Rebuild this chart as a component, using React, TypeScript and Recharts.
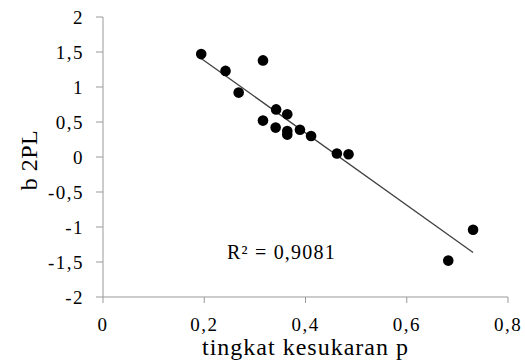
import React from "react"
import { ScatterChart, Scatter, XAxis, YAxis, ReferenceDot, Label } from "recharts"

// tingkat kesukaran p (x) vs b 2PL (y)
const pValues = [0.194, 0.242, 0.268, 0.316, 0.316, 0.341, 0.342, 0.364, 0.364, 0.364, 0.389, 0.411, 0.462, 0.485, 0.682, 0.731]
const bValues = [1.47, 1.23, 0.92, 1.38, 0.52, 0.42, 0.68, 0.61, 0.37, 0.32, 0.39, 0.30, 0.05, 0.04, -1.48, -1.04]

const xTicks = [0, 0.2, 0.4, 0.6, 0.8]
const yTicks = [-2, -1.5, -1, -0.5, 0, 0.5, 1, 1.5, 2]

const rSquaredText = "R² = 0,9081"

const points = pValues.map((p, i) => ({ x: p, y: bValues[i] }))

// linear trendline (least squares), drawn across the data range
const n = points.length
const meanX = pValues.reduce((a, b) => a + b, 0) / n
const meanY = bValues.reduce((a, b) => a + b, 0) / n
const sxy = points.reduce((s, d) => s + (d.x - meanX) * (d.y - meanY), 0)
const sxx = points.reduce((s, d) => s + (d.x - meanX) ** 2, 0)
const slope = sxy / sxx
const intercept = meanY - slope * meanX
const xMin = Math.min(...pValues)
const xMax = Math.max(...pValues)
const trend = [
    { x: xMin, y: intercept + slope * xMin },
    { x: xMax, y: intercept + slope * xMax },
]

const font = "Liberation Serif"
const fmt = (v: number) => String(v).replace(".", ",")

const tickStyle = { fontFamily: font, fontSize: 19, fill: "#000", letterSpacing: 1.5, style: { fontFamily: font } }

export default function App() {
    return (
        <div style={{ position: "absolute", left: 0, top: 0, background: "#fff", fontFamily: font }}>
            <ScatterChart width={525} height={361} margin={{ top: 17, right: 17, bottom: 0, left: 0 }} style={{ fontFamily: font }}>
                <XAxis
                    type="number"
                    dataKey="x"
                    domain={[0, 0.8]}
                    ticks={xTicks}
                    tickFormatter={fmt}
                    height={64}
                    tickSize={6}
                    tickMargin={15}
                    stroke="#999"
                    tick={tickStyle}
                    label={
                        <Label
                            content={({ viewBox }: any) => (
                                <text
                                    x={viewBox.x + viewBox.width / 2}
                                    y={355}
                                    textAnchor="middle"
                                    style={{ fontFamily: font }}
                                    fontSize={24}
                                    letterSpacing={1}
                                    fill="#000"
                                >
                                    tingkat kesukaran p
                                </text>
                            )}
                        />
                    }
                />
                <YAxis
                    type="number"
                    dataKey="y"
                    domain={[-2, 2]}
                    ticks={yTicks}
                    tickFormatter={fmt}
                    width={103}
                    tickSize={7}
                    tickMargin={12}
                    stroke="#999"
                    tick={tickStyle}
                    label={
                        <Label
                            content={({ viewBox }: any) => {
                                const cy = viewBox.y + viewBox.height / 2 + 3
                                return (
                                    <text
                                        x={37}
                                        y={cy}
                                        transform={`rotate(-90, 37, ${cy})`}
                                        textAnchor="middle"
                                        style={{ fontFamily: font }}
                                        fontSize={24}
                                        letterSpacing={0.5}
                                        fill="#000"
                                    >
                                        b 2PL
                                    </text>
                                )
                            }}
                        />
                    }
                />
                <Scatter
                    data={trend}
                    line={{ stroke: "#404040", strokeWidth: 1.3 }}
                    shape={() => <g />}
                    isAnimationActive={false}
                />
                <Scatter
                    data={points}
                    fill="#000"
                    shape={(p: any) => <circle cx={p.cx} cy={p.cy} r={5.3} fill="#000" />}
                    isAnimationActive={false}
                />
                <ReferenceDot x={0.245} y={-1.45} r={1} fill="none" stroke="none">
                    <Label
                        content={({ viewBox }: any) => (
                            <text
                                x={viewBox.x + 1}
                                y={viewBox.y + 1}
                                style={{ fontFamily: font }}
                                fontSize={20}
                                letterSpacing={1.2}
                                fill="#000"
                            >
                                {rSquaredText}
                            </text>
                        )}
                    />
                </ReferenceDot>
            </ScatterChart>
        </div>
    )
}
